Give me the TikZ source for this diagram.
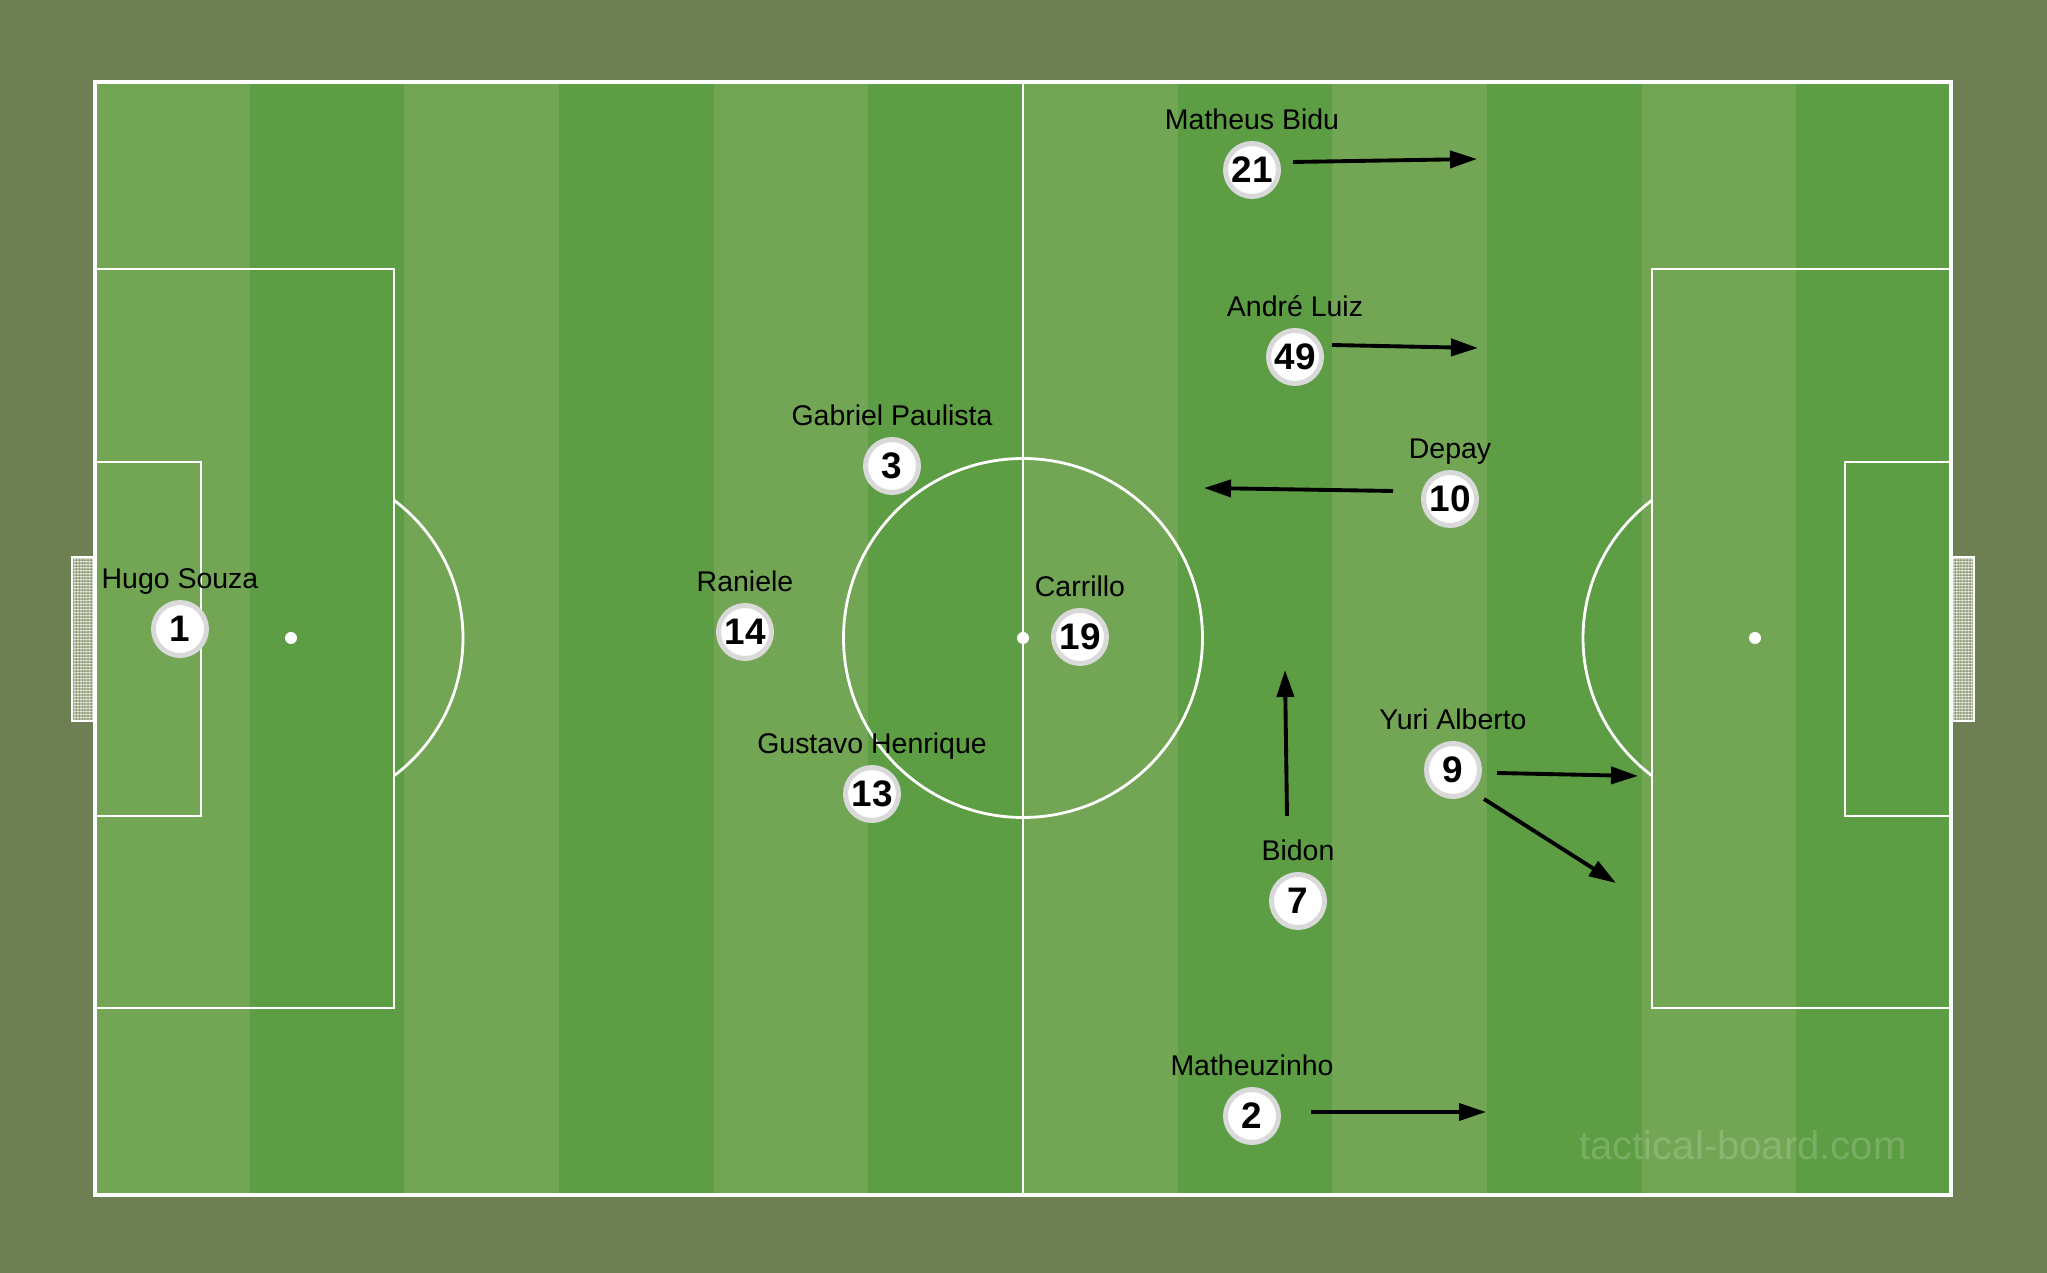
\documentclass[tikz,border=0pt]{standalone}
\usepackage{fontspec}
\setmainfont{Liberation Sans}
\usepackage{xcolor}
\usetikzlibrary{arrows.meta,positioning,patterns.meta}

\definecolor{pitchbg}{HTML}{6F7F54}
\definecolor{stripelight}{HTML}{72A654}
\definecolor{stripedark}{HTML}{5D9D44}
\definecolor{ringgray}{HTML}{D9D9D9}
\definecolor{netgray}{HTML}{8A9670}

\begin{document}
\begin{tikzpicture}[
    x=0.1mm, y=-0.1mm,
    player/.style={circle, draw=ringgray, line width=0.5mm, fill=white, minimum size=5.3mm, inner sep=0pt, font=\fontsize{10.5}{10.5}\selectfont\bfseries},
    plname/.style={inner sep=0pt, text depth=0pt, font=\fontsize{8.1}{8.1}\selectfont},
    pitchline/.style={white, line width=0.8pt},
    goalnet/.style={fill=netgray, draw=white, line width=0.6pt},
    arrow/.style={line width=1.1pt, -{Triangle[length=2.7mm, width=1.7mm]}}
]

% Background and stripes
\fill[pitchbg] (0,0) rectangle (2047,1273);
\useasboundingbox (0,0) rectangle (2047,1273);
\fill[stripelight] (95,82) rectangle (1951,1195);
\foreach \i in {1,3,...,11}
    \fill[stripedark] ({95+154.67*\i},82) rectangle ({95+154.67*(\i+1)},1195);

% Goals
\foreach \gx in {72,1951} {
    \filldraw[goalnet] (\gx,557) rectangle ({\gx+23},721);
    \fill[pattern={Lines[distance=0.9pt, angle=0, line width=0.3pt]}, pattern color=white!80]
        (\gx,557) rectangle ({\gx+23},721);
    \fill[pattern={Lines[distance=0.9pt, angle=90, line width=0.3pt]}, pattern color=white!80]
        (\gx,557) rectangle ({\gx+23},721);
    \draw[white, line width=0.6pt] (\gx,557) rectangle ({\gx+23},721);
}

% Pitch lines
\draw[pitchline, line width=0.95pt] (95,82) rectangle (1951,1195);
\draw[pitchline] (1023,82) -- (1023,1195);
\draw[pitchline] (1023,638) circle[radius=17.95mm];
\draw[pitchline] (95,269) rectangle (394,1008);
\draw[pitchline] (95,462) rectangle (201,816);
\draw[pitchline] (1652,269) rectangle (1951,1008);
\draw[pitchline] (1845,462) rectangle (1951,816);
\begin{scope}
    \clip (394,0) rectangle (1000,1273);
    \draw[pitchline] (291,638) circle[radius=17.2mm];
\end{scope}
\begin{scope}
    \clip (1000,0) rectangle (1652,1273);
    \draw[pitchline] (1755,638) circle[radius=17.2mm];
\end{scope}
\fill[white] (291,638) circle[radius=0.6mm];
\fill[white] (1023,638) circle[radius=0.6mm];
\fill[white] (1755,638) circle[radius=0.6mm];

% Watermark
\node[text=white, opacity=0.18, font=\fontsize{11.4}{11.4}\selectfont] (wm) at (1743,1145) {tactical-board.com};

% Players
\node[player] (p1) at (180,629) {1};
\node[plname, above=1.1mm of p1] (n1) {Hugo Souza};
\node[player] (p21) at (1252,170) {21};
\node[plname, above=1.1mm of p21] (n21) {Matheus Bidu};
\node[player] (p49) at (1295,357) {49};
\node[plname, above=1.1mm of p49] (n49) {André Luiz};
\node[player] (p3) at (892,466) {3};
\node[plname, above=1.1mm of p3] (n3) {Gabriel Paulista};
\node[player] (p10) at (1450,499) {10};
\node[plname, above=1.1mm of p10] (n10) {Depay};
\node[player] (p14) at (745,632) {14};
\node[plname, above=1.1mm of p14] (n14) {Raniele};
\node[player] (p19) at (1080,637) {19};
\node[plname, above=1.1mm of p19] (n19) {Carrillo};
\node[player] (p13) at (872,794) {13};
\node[plname, above=1.1mm of p13] (n13) {Gustavo Henrique};
\node[player] (p9) at (1453,770) {9};
\node[plname, above=1.1mm of p9] (n9) {Yuri Alberto};
\node[player] (p7) at (1298,901) {7};
\node[plname, above=1.1mm of p7] (n7) {Bidon};
\node[player] (p2) at (1252,1116) {2};
\node[plname, above=1.1mm of p2] (n2) {Matheuzinho};

% Runs
\coordinate (r21s) at (1293,162);  \coordinate (r21e) at (1477,159);
\coordinate (r49s) at (1332,345);  \coordinate (r49e) at (1478,348);
\coordinate (r10s) at (1393,491);  \coordinate (r10e) at (1204,488);
\coordinate (r9as) at (1497,773);  \coordinate (r9ae) at (1638,776);
\coordinate (r9bs) at (1484,799);  \coordinate (r9be) at (1616,883);
\coordinate (r7s) at (1287,816);   \coordinate (r7e) at (1285,670);
\coordinate (r2s) at (1311,1112);  \coordinate (r2e) at (1486,1112);
\draw[arrow] (r21s) -- (r21e);
\draw[arrow] (r49s) -- (r49e);
\draw[arrow] (r10s) -- (r10e);
\draw[arrow] (r9as) -- (r9ae);
\draw[arrow] (r9bs) -- (r9be);
\draw[arrow] (r7s) -- (r7e);
\draw[arrow] (r2s) -- (r2e);

\end{tikzpicture}
\end{document}
